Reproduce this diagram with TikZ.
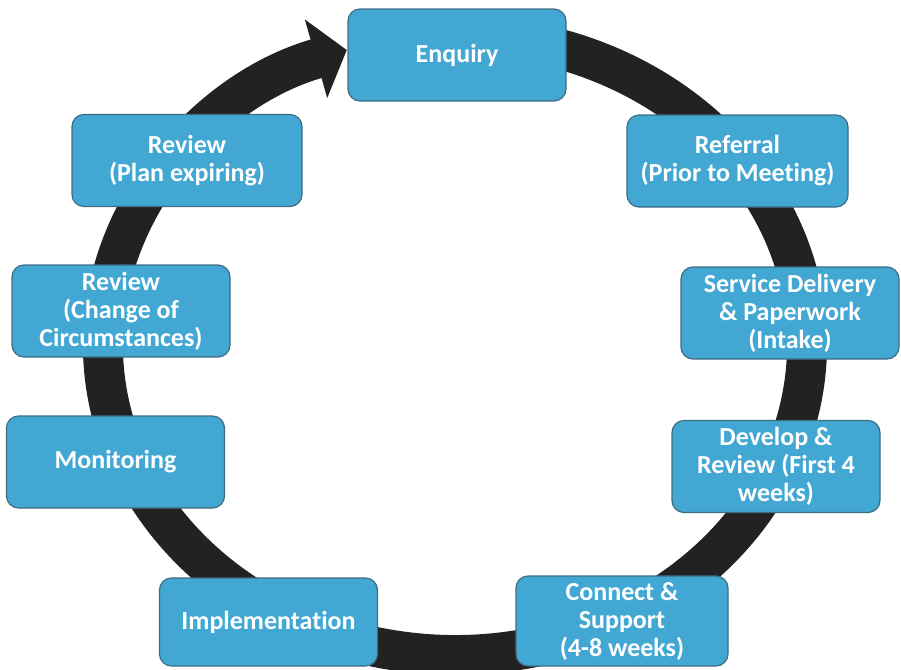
\documentclass[tikz,border=0pt]{standalone}
\usepackage{fontspec}
\setmainfont{Carlito}[Ligatures=NoCommon]
\usetikzlibrary{arrows.meta}
\definecolor{stageblue}{RGB}{66,168,211}
\definecolor{stageedge}{RGB}{62,108,130}
\definecolor{ringgrey}{RGB}{34,34,34}

\begin{document}
\begin{tikzpicture}[x=0.5pt, y=-0.5pt,
    stage/.style={draw=stageedge, fill=stageblue, rounded corners=6pt, line width=0.6pt,
      text=white, font=\bfseries\fontsize{13}{14}\selectfont, align=center,
      minimum width=109pt, minimum height=46pt, inner sep=2pt}]
          \useasboundingbox (0,0) rectangle (901,670);
          \coordinate (Centre) at (455,345);

          \draw[ringgrey, line width=20pt, -{Triangle[length=16pt,width=40pt]}]
            ([shift={(80:176pt and 155pt)}]Centre) arc[start angle=80, end angle=-252.1, x radius=176pt, y radius=155pt];

          \node[stage] (Enquiry) at (457,55) {Enquiry};
          \node[stage, minimum width=110.5pt] (Referral) at (737.5,161) {Referral\\(Prior to Meeting)};
          \node[stage] (ServiceDelivery) at (790,313) {Service Delivery\\\& Paperwork\\(Intake)};
          \node[stage, minimum width=104pt] (Develop) at (776,466.5) {Develop \&\\Review (First 4\\weeks)};
          \node[stage, minimum width=106pt, minimum height=45pt] (Connect) at (622,621) {Connect \&\\Support\\(4-8 weeks)};
          \node[stage, minimum height=44pt] (Implementation) at (268.5,622) {Implementation};
          \node[stage] (Monitoring) at (115.5,462) {Monitoring};
          \node[stage] (ReviewChange) at (121,311) {Review\\(Change of\\Circumstances)};
          \node[stage, minimum width=115pt] (ReviewPlan) at (187,160.5) {Review\\(Plan expiring)};
        \end{tikzpicture}
\end{document}
